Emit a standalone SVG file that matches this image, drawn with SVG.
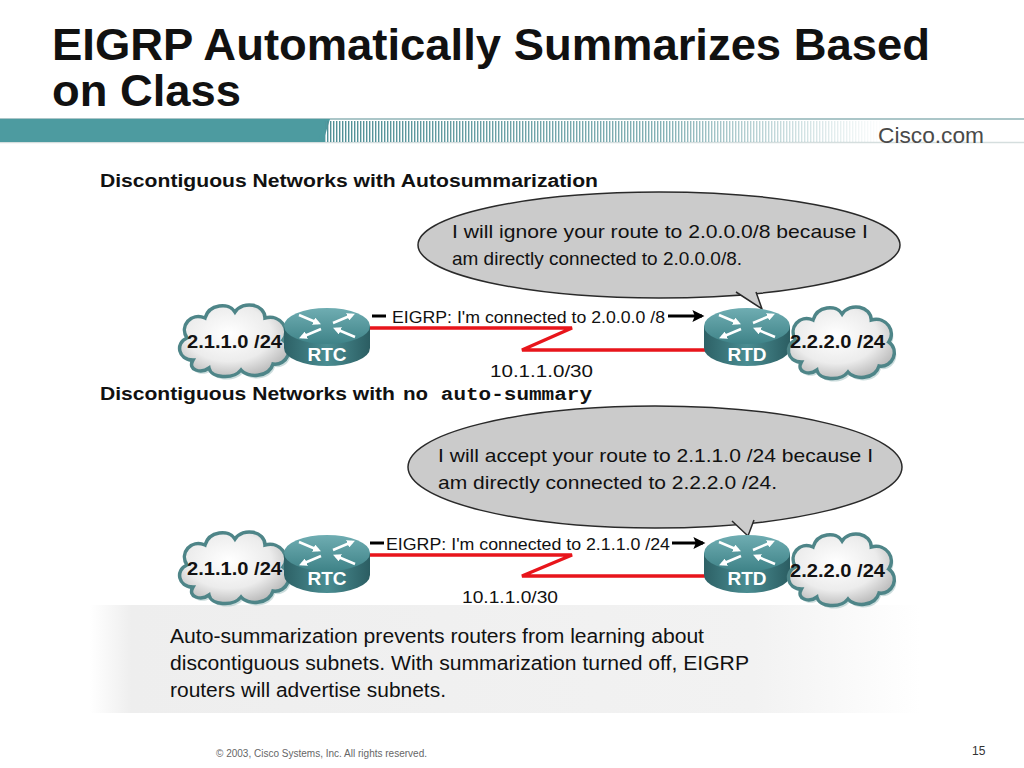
<svg xmlns="http://www.w3.org/2000/svg" width="1024" height="768" viewBox="0 0 1024 768">
<defs>
<style>
.t{font-family:"Liberation Sans",Arial,sans-serif;fill:#111}
.b{font-weight:bold}
.m{font-family:"Liberation Mono","Courier New",monospace;font-weight:bold;fill:#111}
.cloudtxt{font-family:"Liberation Sans",Arial,sans-serif;font-weight:bold;font-size:19px;fill:#111}
.rt{font-family:"Liberation Sans",Arial,sans-serif;font-weight:bold;font-size:19px;fill:#fff}
.bubble{fill:#cbcbcb;stroke:#2a2a2a;stroke-width:1.5}
.link{fill:none;stroke:#e8151b;stroke-width:3.5;stroke-linejoin:miter}
.ar{stroke:#000;stroke-width:3;fill:none}
</style>
<radialGradient id="cg" cx="0.45" cy="0.4" r="0.65">
<stop offset="0" stop-color="#ffffff"/>
<stop offset="0.6" stop-color="#ececec"/>
<stop offset="1" stop-color="#b5b5b5"/>
</radialGradient>
<linearGradient id="rtop" x1="0" y1="0" x2="0" y2="1">
<stop offset="0" stop-color="#6fadb2"/>
<stop offset="1" stop-color="#3f8388"/>
</linearGradient>
<linearGradient id="rbody" x1="0" y1="0" x2="1" y2="0">
<stop offset="0" stop-color="#2d6166"/>
<stop offset="0.5" stop-color="#4a8d92"/>
<stop offset="1" stop-color="#2b5d62"/>
</linearGradient>
<linearGradient id="greybox" x1="0" y1="0" x2="1" y2="0">
<stop offset="0" stop-color="#ffffff"/>
<stop offset="0.05" stop-color="#eeeeee"/>
<stop offset="0.8" stop-color="#f2f2f2"/>
<stop offset="1" stop-color="#ffffff"/>
</linearGradient>
<linearGradient id="fade" x1="0" y1="0" x2="1" y2="0">
<stop offset="0" stop-color="#fff"/>
<stop offset="0.6" stop-color="#fff" stop-opacity="0.7"/>
<stop offset="1" stop-color="#fff" stop-opacity="0"/>
</linearGradient>
<pattern id="stripes" x="0" y="0" width="3" height="10" patternUnits="userSpaceOnUse">
<rect x="0" y="0" width="1.4" height="10" fill="#4f8f95"/>
</pattern>
<mask id="stripemask">
<rect x="325" y="118" width="560" height="26" fill="url(#fade)"/>
</mask>
<marker id="wa" viewBox="0 0 10 10" refX="6" refY="5" markerWidth="3.2" markerHeight="3.2" orient="auto">
<path d="M0,0 L10,5 L0,10 Z" fill="#fff"/>
</marker>
<marker id="ba" viewBox="0 0 10 10" refX="8" refY="5" markerWidth="4.5" markerHeight="4" orient="auto">
<path d="M0,0 L10,5 L0,10 L2,5 Z" fill="#000"/>
</marker>
<path id="cloudshape" d="M20,62 C5,62 2,45 14,40 C6,28 18,14 32,20 C36,6 56,4 62,14 C70,2 92,6 92,20 C108,16 118,32 110,42 C122,50 114,68 100,66 C96,80 74,80 68,72 C60,82 38,80 36,70 C28,76 14,72 20,62 Z"/>
<g id="cloud">
<use href="#cloudshape" fill="#9bb" opacity="0.5" transform="translate(2,3)"/>
<use href="#cloudshape" fill="url(#cg)" stroke="#4e8588" stroke-width="3.5"/>
</g>
<g id="router">
<path d="M-43,0 V22 A43,18 0 0 0 43,22 V0 Z" fill="url(#rbody)"/>
<ellipse cx="0" cy="0" rx="43" ry="18" fill="url(#rtop)"/>
<line x1="-28" y1="-11" x2="-9" y2="-3" stroke="#fff" stroke-width="2.5" marker-end="url(#wa)"/>
<line x1="28" y1="11" x2="9" y2="3" stroke="#fff" stroke-width="2.5" marker-end="url(#wa)"/>
<line x1="6" y1="-3" x2="25" y2="-11" stroke="#fff" stroke-width="2.5" marker-end="url(#wa)"/>
<line x1="-6" y1="3" x2="-25" y2="11" stroke="#fff" stroke-width="2.5" marker-end="url(#wa)"/>
</g>
</defs>

<rect x="0" y="0" width="1024" height="768" fill="#fff"/>

<g id="title">
<text class="t b" x="52" y="60" font-size="44" textLength="878" lengthAdjust="spacingAndGlyphs">EIGRP Automatically Summarizes Based</text>
<text class="t b" x="52" y="106" font-size="44" textLength="189" lengthAdjust="spacingAndGlyphs">on Class</text>
</g>

<g id="header-bar">
<line x1="0" y1="119" x2="1024" y2="119" stroke="#8fb3b6" stroke-width="1.5"/>
<line x1="0" y1="142.5" x2="1024" y2="142.5" stroke="#d5dede" stroke-width="1.5"/>
<rect x="0" y="119" width="325" height="23" fill="#4d9ba0"/>
<polygon points="318,142 325,119 330,119 323,142" fill="#4d9ba0"/>
<rect x="325" y="121" width="560" height="21" fill="url(#stripes)" mask="url(#stripemask)"/>
<text class="t" x="878" y="143" font-size="22" style="fill:#4a4a4a" textLength="106" lengthAdjust="spacingAndGlyphs">Cisco.com</text>
</g>

<g id="heading1">
<text class="t b" x="100" y="187" font-size="18" textLength="498" lengthAdjust="spacingAndGlyphs">Discontiguous Networks with Autosummarization</text>
</g>

<g id="bubble1">
<ellipse class="bubble" cx="659" cy="245" rx="241" ry="53"/>
<path d="M736,292 L762,309 L756,292" class="bubble"/>
<text class="t" x="452" y="238" font-size="19" textLength="416" lengthAdjust="spacingAndGlyphs">I will ignore your route to 2.0.0.0/8 because I</text>
<text class="t" x="452" y="265" font-size="19" textLength="290" lengthAdjust="spacingAndGlyphs">am directly connected to 2.0.0.0/8.</text>
</g>

<g id="connectors">
<path class="link" d="M368,328 H572 L522,350 H712"/>
<path class="link" d="M368,555 H572 L522,576 H712"/>
<line x1="372" y1="316" x2="386" y2="316" class="ar"/>
<line x1="668" y1="316" x2="702" y2="316" class="ar" marker-end="url(#ba)"/>
<line x1="370" y1="543" x2="384" y2="543" class="ar"/>
<line x1="672" y1="543" x2="703" y2="543" class="ar" marker-end="url(#ba)"/>
<text class="t" x="392" y="323" font-size="17" textLength="273" lengthAdjust="spacingAndGlyphs">EIGRP: I'm connected to 2.0.0.0 /8</text>
<text class="t" x="490" y="377" font-size="17" textLength="103" lengthAdjust="spacingAndGlyphs">10.1.1.0/30</text>
<text class="t" x="386" y="550" font-size="17" textLength="284" lengthAdjust="spacingAndGlyphs">EIGRP: I'm connected to 2.1.1.0 /24</text>
<text class="t" x="462" y="603" font-size="17" textLength="96" lengthAdjust="spacingAndGlyphs">10.1.1.0/30</text>
</g>

<g id="cloud-2-1-1-0-a">
<use href="#cloud" transform="translate(173,298)"/>
<text class="cloudtxt" x="187" y="348" textLength="95" lengthAdjust="spacingAndGlyphs">2.1.1.0 /24</text>
</g>
<g id="router-rtc-a">
<use href="#router" transform="translate(327,326)"/>
<text class="rt" x="327" y="361" text-anchor="middle">RTC</text>
</g>
<g id="router-rtd-a">
<use href="#router" transform="translate(747,326)"/>
<text class="rt" x="747" y="361" text-anchor="middle">RTD</text>
</g>
<g id="cloud-2-2-2-0-a">
<use href="#cloud" transform="translate(782,300) scale(0.97,1)"/>
<text class="cloudtxt" x="790" y="348" textLength="95" lengthAdjust="spacingAndGlyphs">2.2.2.0 /24</text>
</g>

<g id="heading2">
<text class="t b" x="100" y="400" font-size="18" textLength="295" lengthAdjust="spacingAndGlyphs">Discontiguous Networks with</text>
<text class="m" x="403" y="400" font-size="19" textLength="189" lengthAdjust="spacingAndGlyphs">no auto-summary</text>
</g>

<g id="bubble2">
<ellipse class="bubble" cx="655" cy="467" rx="247" ry="61"/>
<path d="M732,521 L748,536 L754,520" class="bubble"/>
<text class="t" x="438" y="462" font-size="19" textLength="435" lengthAdjust="spacingAndGlyphs">I will accept your route to 2.1.1.0 /24 because I</text>
<text class="t" x="438" y="489" font-size="19" textLength="339" lengthAdjust="spacingAndGlyphs">am directly connected to 2.2.2.0 /24.</text>
</g>

<g id="note-box">
<rect x="90" y="605" width="830" height="108" fill="url(#greybox)"/>
<text class="t" x="170" y="643" font-size="19.5" textLength="534" lengthAdjust="spacingAndGlyphs">Auto-summarization prevents routers from learning about</text>
<text class="t" x="170" y="670" font-size="19.5" textLength="579" lengthAdjust="spacingAndGlyphs">discontiguous subnets. With summarization turned off, EIGRP</text>
<text class="t" x="170" y="697" font-size="19.5" textLength="276" lengthAdjust="spacingAndGlyphs">routers will advertise subnets.</text>
</g>

<g id="cloud-2-1-1-0-b">
<use href="#cloud" transform="translate(173,525)"/>
<text class="cloudtxt" x="187" y="575" textLength="95" lengthAdjust="spacingAndGlyphs">2.1.1.0 /24</text>
</g>
<g id="router-rtc-b">
<use href="#router" transform="translate(327,553)"/>
<text class="rt" x="327" y="585" text-anchor="middle">RTC</text>
</g>
<g id="router-rtd-b">
<use href="#router" transform="translate(747,553)"/>
<text class="rt" x="747" y="585" text-anchor="middle">RTD</text>
</g>
<g id="cloud-2-2-2-0-b">
<use href="#cloud" transform="translate(782,527) scale(0.97,1)"/>
<text class="cloudtxt" x="790" y="577" textLength="95" lengthAdjust="spacingAndGlyphs">2.2.2.0 /24</text>
</g>

<g id="footer">
<text class="t" x="216" y="757" font-size="10" style="fill:#666" textLength="211" lengthAdjust="spacingAndGlyphs">© 2003, Cisco Systems, Inc. All rights reserved.</text>
<text class="t" x="972" y="755" font-size="12" style="fill:#333">15</text>
</g>
</svg>
